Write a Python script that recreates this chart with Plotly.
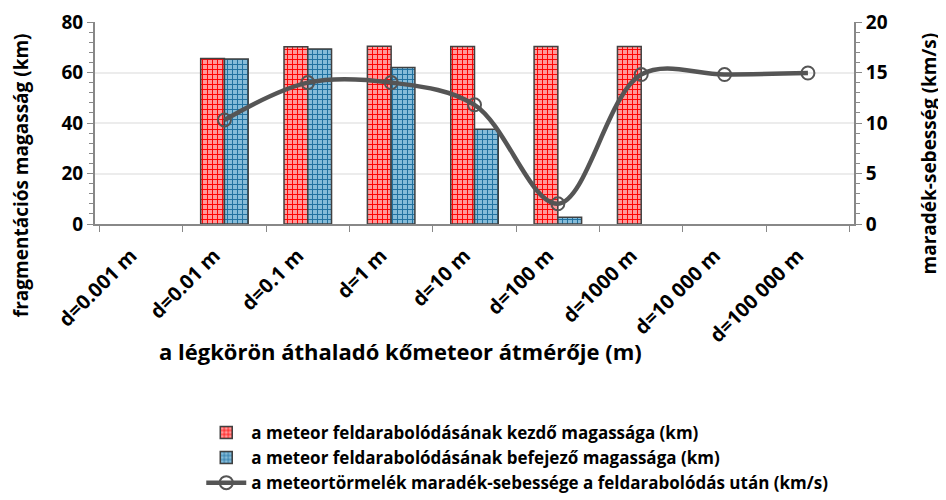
import plotly.graph_objects as go

categories = ["d=0.001 m", "d=0.01 m", "d=0.1 m", "d=1 m", "d=10 m", "d=100 m",
              "d=1000 m", "d=10 000 m", "d=100 000 m"]
start_height = [None, 65.5, 70.2, 70.4, 70.3, 70.3, 70.3, None, None]
end_height = [None, 65.3, 69.3, 62.0, 37.5, 2.7, None, None, None]
residual_speed = [None, 10.3, 14.0, 14.0, 11.8, 2.0, 14.8, 14.8, 14.95]

name_start = "a meteor feldarabolódásának kezdő magassága (km)"
name_end = "a meteor feldarabolódásának befejező magassága (km)"
name_speed = "a meteortörmelék maradék-sebessége a feldarabolódás után (km/s)"
left_title = "fragmentációs magasság (km)"
right_title = "maradék-sebesség (km/s)"
x_title = "a légkörön áthaladó kőmeteor átmérője (m)"

FONT = "Open Sans"

fig = go.Figure()
fig.add_trace(go.Bar(
    x=categories, y=start_height, name=name_start,
    marker=dict(color="#ff8a8a",
                line=dict(color="#404040", width=1.5),
                pattern=dict(shape="+", fgcolor="#ff0000", bgcolor="#ff9a9a",
                             size=5, solidity=0.35, fillmode="replace")),
))
fig.add_trace(go.Bar(
    x=categories, y=end_height, name=name_end,
    marker=dict(color="#7fb6d6",
                line=dict(color="#404040", width=1.5),
                pattern=dict(shape="+", fgcolor="#1f6f9f", bgcolor="#86bcd9",
                             size=5, solidity=0.35, fillmode="replace")),
))
fig.add_trace(go.Scatter(
    x=categories, y=residual_speed, name=name_speed, yaxis="y2",
    mode="lines+markers", line=dict(color="#555555", width=4.5, shape="spline", smoothing=1.0),
    marker=dict(symbol="circle-open", size=13, color="#555555", line=dict(width=2)),
    connectgaps=False,
))

fig.update_layout(
    width=946, height=500,
    paper_bgcolor="white", plot_bgcolor="white",
    margin=dict(l=87, r=100, t=14, b=284, autoexpand=False),
    font=dict(family=FONT, color="black"),
    barmode="group", bargap=0.43, bargroupgap=0.0,
    showlegend=True,
    legend=dict(x=0.14, y=-0.945, xanchor="left", yanchor="top",
                font=dict(family=FONT, size=17, color="black", weight="bold"),
                tracegroupgap=0, itemwidth=40, bgcolor="rgba(0,0,0,0)"),
    xaxis=dict(
        type="category", tickson="boundaries", ticks="outside", ticklen=6,
        tickcolor="#888888", showline=True, linecolor="#888888", linewidth=2,
        tickangle=-45, tickfont=dict(family=FONT, size=20, weight="bold"),
        ticklabelshift=-10, ticklabelstandoff=10,
        showgrid=False, automargin=False,
    ),
    yaxis=dict(
        range=[0, 80], dtick=20, ticks="outside", ticklen=6, tickcolor="#888888",
        showline=True, linecolor="#888888", linewidth=2, automargin=False,
        showgrid=True, gridcolor="#ececec", gridwidth=1.5, zeroline=False,
        tickfont=dict(family=FONT, size=19, weight="bold"), ticklabeloverflow="allow",
        minor=dict(dtick=4, ticks="outside", ticklen=4, tickcolor="#888888", showgrid=False),
    ),
    yaxis2=dict(
        range=[0, 20], dtick=5, overlaying="y", side="right",
        ticks="outside", ticklen=6, tickcolor="#888888", automargin=False,
        showline=True, linecolor="#888888", linewidth=2,
        showgrid=False, zeroline=False,
        tickfont=dict(family=FONT, size=19, weight="bold"), ticklabeloverflow="allow",
        minor=dict(dtick=1, ticks="outside", ticklen=4, tickcolor="#888888", showgrid=False),
    ),
    annotations=[
        dict(text=x_title, xref="paper", yref="paper", x=0.403, y=-0.63,
             xanchor="center", yanchor="middle", showarrow=False,
             font=dict(family=FONT, size=22, weight="bold", color="black")),
        dict(text=left_title, xref="paper", yref="paper", x=-0.098, y=0.24,
             xanchor="center", yanchor="middle", textangle=-90, showarrow=False,
             font=dict(family=FONT, size=19, weight="bold", color="black")),
        dict(text=right_title, xref="paper", yref="paper", x=1.099, y=0.35,
             xanchor="center", yanchor="middle", textangle=-90, showarrow=False,
             font=dict(family=FONT, size=19, weight="bold", color="black")),
    ],
)

fig.write_html("out.html")
